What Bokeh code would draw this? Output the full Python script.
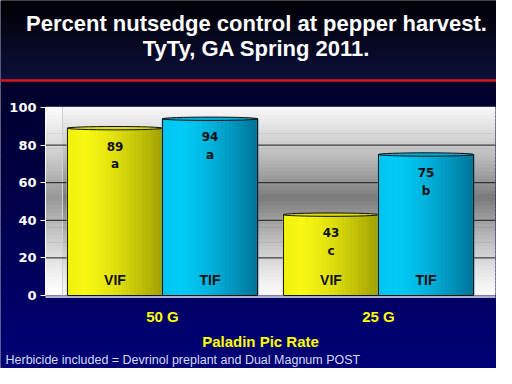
import numpy as np
from bokeh.plotting import figure
from bokeh.models import LinearAxis, FixedTicker, Label, Range1d
from bokeh.core.properties import value
from bokeh.embed import file_html
from bokeh.resources import INLINE

# ---- data ----
groups = ["50 G", "25 G"]
series = ["VIF", "TIF"]
vif_vals = [89, 43]
tif_vals = [94, 75]
vif_letters = ["a", "c"]
tif_letters = ["a", "b"]
y_ticks = [0, 20, 40, 60, 80, 100]
title_lines = ["Percent nutsedge control at pepper harvest.", "TyTy, GA Spring 2011."]
x_title = "Paladin Pic Rate"
footnote = "Herbicide included = Devrinol preplant and Dual Magnum POST"

W, H = 496, 368
# pixel geometry of the figure (layout, not data)
PX_PER_GROUP = 216.0
X0_PX = 162.0          # pixel x of group 0 centre
Y0_PX = 295.0          # pixel y (from top) of value 0
PX_PER_UNIT = 1.88

def xd(px):
    return (px - X0_PX) / PX_PER_GROUP

def yd(py):
    return (Y0_PX - py) / PX_PER_UNIT

p = figure(width=W, height=H, output_backend="svg", toolbar_location=None,
           x_axis_type=None, y_axis_type=None,
           x_range=Range1d(xd(0), xd(W)), y_range=Range1d(yd(H), yd(0)),
           min_border=0, outline_line_color=None)
p.grid.visible = False
p.background_fill_color = "#000040"
p.border_fill_color = "#000040"

def lerp(c1, c2, t):
    return "#%02x%02x%02x" % tuple(int(round(a + (b - a) * t)) for a, b in zip(c1, c2))

EPS = 0.35  # overlap to hide seams between gradient strips

# ---- page background gradient ----
n = 40
edges = np.linspace(0, 80, n + 1)
p.quad(left=xd(0), right=xd(W), top=[yd(e) + EPS for e in edges[:-1]], bottom=[yd(e) for e in edges[1:]],
       fill_color=[lerp((0, 0, 4), (12, 16, 58), t) for t in np.linspace(0, 1, n)], line_color=None)
edges = np.linspace(80, H, n + 1)
p.quad(left=xd(0), right=xd(W), top=[yd(e) + EPS for e in edges[:-1]], bottom=[yd(e) for e in edges[1:]],
       fill_color=[lerp((0, 0, 42), (0, 0, 118), t) for t in np.linspace(0, 1, n)], line_color=None)
# red rule
p.segment(x0=xd(0), x1=xd(W), y0=yd(80), y1=yd(80), line_color="#d81818", line_width=2.5)

# ---- plot panel gradient (white - gray - white) ----
m = 50
pv = np.linspace(0, 100, m + 1)
def panel_t(v):
    t = 1 - abs(v - 52) / 52
    return max(0.0, min(1.0, t)) ** 1.3
p.quad(left=xd(62), right=xd(495), bottom=pv[:-1], top=pv[1:] + EPS,
       fill_color=[lerp((250, 250, 250), (122, 122, 122), panel_t(v)) for v in (pv[:-1] + pv[1:]) / 2],
       line_color=None)
# side wall
p.quad(left=xd(45), right=xd(62), bottom=pv[:-1], top=pv[1:] + EPS,
       fill_color=[lerp((255, 255, 255), (150, 150, 150), panel_t(v)) for v in (pv[:-1] + pv[1:]) / 2],
       line_color=None)
p.segment(x0=xd(62), x1=xd(62), y0=0, y1=100, line_color="#d0d0d0", line_width=1)
# gridlines
for t in y_ticks[1:-1]:
    p.segment(x0=xd(45), x1=xd(495), y0=t, y1=t, line_color="#1a1a1a", line_width=1)
# floor line
p.segment(x0=xd(45), x1=xd(495), y0=-0.8, y1=-0.8, line_color="#e8e8e8", line_width=1.5)

# ---- bars (cylinders) ----
bw = 0.44
vif_x = [i - bw / 2 for i in range(len(groups))]
tif_x = [i + bw / 2 for i in range(len(groups))]

def draw_bars(xs, vals, light, dark):
    k = 24
    sw = bw / k
    for j in range(k):
        t = (j + 0.5) / k
        f = 0.15 * max(0, 0.2 - t) / 0.2 + (t ** 1.6) * 0.9
        col = lerp(light, dark, min(1, f))
        p.vbar(x=[x - bw / 2 + (j + 0.5) * sw for x in xs], width=sw * 1.4, top=vals, bottom=0,
               fill_color=col, line_color=None)
    p.vbar(x=xs, width=bw, top=vals, bottom=0, fill_color=None, line_color="#111111", line_width=1)
    p.ellipse(x=xs, y=vals, width=bw, height=1.8, fill_color=lerp(light, dark, 0.35),
              line_color="#111111", line_width=1)

draw_bars(vif_x, vif_vals, (255, 255, 20), (150, 150, 0))
draw_bars(tif_x, tif_vals, (0, 210, 255), (0, 105, 140))

lab_font = value("DejaVu Sans")
for xs, vals, lets, name in [(vif_x, vif_vals, vif_letters, "VIF"), (tif_x, tif_vals, tif_letters, "TIF")]:
    p.text(x=xs, y=vals, text=[str(v) for v in vals], y_offset=18, text_align="center",
           text_baseline="middle", text_font=lab_font, text_font_style="bold",
           text_font_size="12px", text_color="#111111")
    p.text(x=xs, y=vals, text=lets, y_offset=36, text_align="center",
           text_baseline="middle", text_font=lab_font, text_font_style="bold",
           text_font_size="12px", text_color="#111111")
    p.text(x=xs, y=[8] * len(xs), text=[name] * len(xs), text_align="center",
           text_baseline="middle", text_font=value("Liberation Sans"), text_font_style="bold",
           text_font_size="14px", text_color="#111111")

# ---- y axis (fixed inside) ----
yax = LinearAxis(fixed_location=xd(45), ticker=FixedTicker(ticks=y_ticks), bounds=(0, 100),
                 axis_line_color="#ffffff", major_tick_line_color="#ffffff",
                 major_tick_out=5, major_tick_in=0, minor_tick_line_color=None,
                 major_label_text_color="#ffffff", major_label_text_font="DejaVu Sans",
                 major_label_text_font_style="bold", major_label_text_font_size="13px",
                 major_label_standoff=4)
p.add_layout(yax, "left")

# category labels
p.text(x=list(range(len(groups))), y=yd(316), text=groups, text_align="center", text_baseline="middle",
       text_font=value("Liberation Sans"), text_font_style="bold", text_font_size="15px",
       text_color="#ffff00")
p.add_layout(Label(x=260, y=H - 341, x_units="screen", y_units="screen", text=x_title,
                   text_align="center", text_baseline="middle", text_font="Liberation Sans",
                   text_font_style="bold", text_font_size="15px", text_color="#ffff00"))

# title
for t, yy in zip(title_lines, [23, 48]):
    p.add_layout(Label(x=256, y=H - yy, x_units="screen", y_units="screen", text=t,
                       text_align="center", text_baseline="middle", text_font="Liberation Sans",
                       text_font_style="bold", text_font_size="22px", text_color="#ffffff"))

p.add_layout(Label(x=5, y=H - 359, x_units="screen", y_units="screen", text=footnote,
                   text_align="left", text_baseline="middle", text_font="Liberation Sans",
                   text_font_size="12.5px", text_color="#d4dcf4"))

open("out.html", "w").write(file_html(p, INLINE))
